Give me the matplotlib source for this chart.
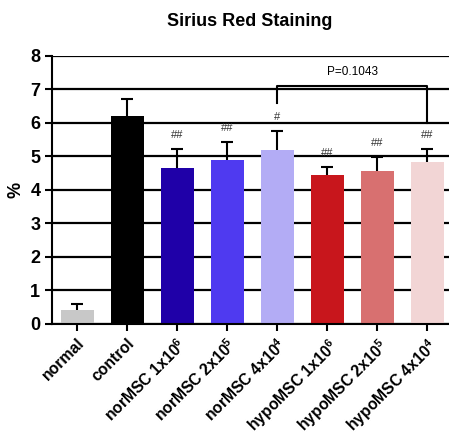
import matplotlib
matplotlib.use("Agg")
import matplotlib.pyplot as plt
import numpy as np

plt.rcParams['font.family'] = ['Liberation Sans', 'DejaVu Sans']
plt.rcParams['mathtext.fontset'] = 'custom'
plt.rcParams['mathtext.rm'] = 'Liberation Sans:bold'
plt.rcParams['mathtext.bf'] = 'Liberation Sans:bold'

# data
groups = ['normal', 'control',
          'norMSC 1x10$^{6}$', 'norMSC 2x10$^{5}$', 'norMSC 4x10$^{4}$',
          'hypoMSC 1x10$^{6}$', 'hypoMSC 2x10$^{5}$', 'hypoMSC 4x10$^{4}$']
means = [0.42, 6.2, 4.65, 4.9, 5.2, 4.45, 4.57, 4.82]
errs = [0.16, 0.5, 0.57, 0.52, 0.57, 0.22, 0.4, 0.4]
marks = ['', '', '##', '##', '#', '##', '##', '##']
colors = ['#c8c8c8', '#000000', '#1f00a8', '#4f3af0', '#b3acf5',
          '#c8161c', '#d87070', '#f2d5d5']
p_text = 'P=0.1043'

fig = plt.figure(figsize=(4.49, 4.37), dpi=100)
ax = fig.add_axes([0.116, 0.259, 0.884, 0.613])

x = np.arange(len(groups))
means = np.array(means)
errs = np.array(errs)
tops = means + errs

ax.set_axisbelow(True)
ax.yaxis.grid(True, color='black', linewidth=1.6)
ax.bar(x, means, width=0.66, color=colors, zorder=2)
# upper-only error bars
ax.vlines(x, means, tops, color='black', linewidth=1.5, zorder=3)
ax.hlines(tops, x - 0.12, x + 0.12, color='black', linewidth=1.5, zorder=3)

for i in range(len(x)):
    if marks[i]:
        ax.text(x[i], tops[i] + 0.42, marks[i], ha='center',
                va='center', fontsize=8, color='#333333')

# bracket between norMSC 4x10^4 and hypoMSC 4x10^4
ax.plot([4, 4, 7, 7], [6.6, 7.1, 7.1, 6.0], color='black', linewidth=1.5,
        zorder=3)
ax.text(5.5, 7.52, p_text, ha='center', va='center', fontsize=8.5)

ax.set_ylim(0, 8)
ax.set_xlim(-0.5, 7.44)
ax.set_yticks(range(0, 9))
ax.set_xticks(x)
ax.set_xticklabels(groups, rotation=45, ha='right', rotation_mode='anchor',
                   fontsize=11.3, fontweight='bold')
for lbl in ax.get_yticklabels():
    lbl.set_fontweight('bold')
    lbl.set_fontsize(13)
ax.tick_params(axis='both', width=1.5, length=5, direction='out')
ax.set_ylabel('%', fontsize=13, fontweight='bold', labelpad=4)

for s in ['top', 'right']:
    ax.spines[s].set_visible(False)
ax.spines['left'].set_linewidth(1.5)
ax.spines['bottom'].set_linewidth(1.5)

fig.suptitle('Sirius Red Staining', x=0.555, y=0.97, fontsize=13,
             fontweight='bold')

fig.savefig('out.png', dpi=100)
